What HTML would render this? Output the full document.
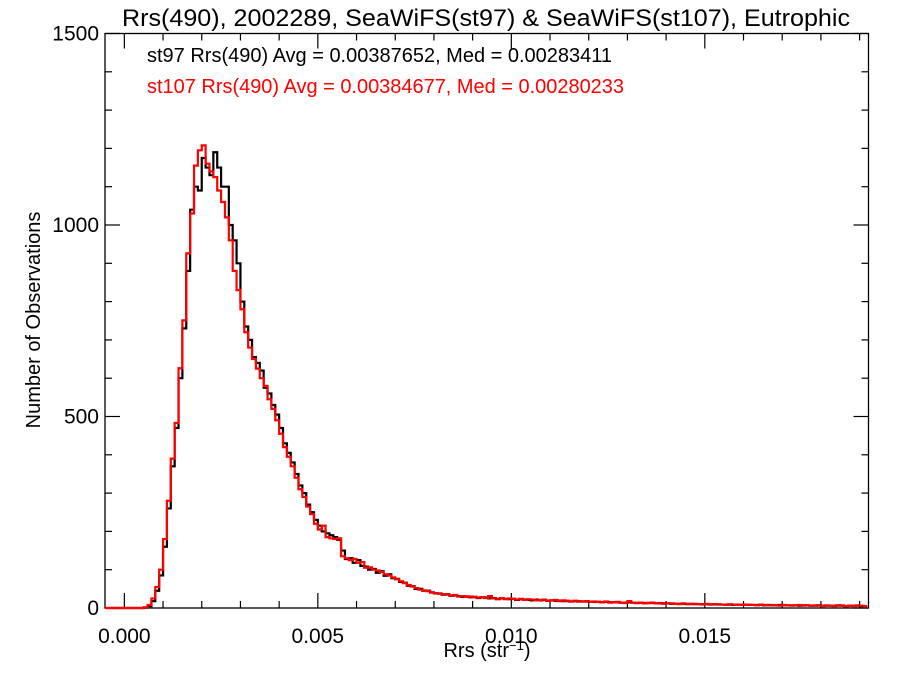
<!DOCTYPE html>
<html><head><meta charset="utf-8"><style>
body{margin:0;background:#fff}
svg{display:block;font-family:"Liberation Sans",Arial,sans-serif}
</style></head><body>
<svg id="chart" width="900" height="675" viewBox="0 0 900 675">
<rect width="900" height="675" fill="#fff"/>
<text x="486" y="26" font-size="24" text-anchor="middle" textLength="728" lengthAdjust="spacingAndGlyphs">Rrs(490), 2002289, SeaWiFS(st97) &amp; SeaWiFS(st107), Eutrophic</text>
<text x="147" y="62" font-size="20" textLength="465" lengthAdjust="spacingAndGlyphs">st97 Rrs(490) Avg = 0.00387652, Med = 0.00283411</text>
<text x="147" y="93" font-size="20" fill="#ff0000" textLength="477" lengthAdjust="spacingAndGlyphs">st107 Rrs(490) Avg = 0.00384677, Med = 0.00280233</text>
<text transform="translate(40,320) rotate(-90)" font-size="20" text-anchor="middle">Number of Observations</text>
<text x="487" y="657" font-size="20" text-anchor="middle">Rrs (str<tspan dy="-7" font-size="13">−1</tspan><tspan dy="7">)</tspan></text>
<g id="axes"></g>
<g id="series"></g>
</svg>
<script>
const binStart = 0.0;
const binWidth = 0.0001;
const st107Counts = [0,0,0,0,0,2,8,25,55,100,180,280,390,483,626,751,926,1030,1155,1195,1208,1160,1140,1125,1090,1060,1020,960,880,830,780,720,680,650,625,600,580,545,520,490,455,420,395,370,340,310,290,265,245,220,205,215,185,182,180,182,135,130,125,128,118,120,105,106,100,98,94,88,85,80,75,70,65,60,56,52,48,46,44,40,39,37,36,35,33,34,30,31,29,30,28,27,28,26,31,25,24,26,23,25,24,22,24,21,23,22,20,21,22,19,20,21,18,20,19,17,19,18,17,18,16,17,16,15,17,14,15,16,14,13,18,14,13,14,12,13,14,12,13,11,12,12,11,10,12,11,10,11,10,9,11,10,9,10,9,8,10,9,8,9,8,9,8,7,9,8,7,8,7,6,8,7,6,7,8,6,7,6,7,6,5,7,6,5,6,7,5,6,5,7,6,5];
const st97Counts = [0,0,0,0,0,1,5,18,45,85,160,260,370,470,600,730,880,1040,1100,1090,1175,1150,1130,1190,1150,1100,1100,1000,960,900,800,735,700,655,640,620,575,560,530,505,470,430,405,380,350,320,300,270,250,230,215,200,195,190,185,178,150,128,130,118,125,110,108,100,102,92,96,84,88,78,76,68,66,58,57,50,50,45,45,41,38,38,35,36,32,33,31,29,30,28,29,26,28,27,25,26,23,25,24,23,24,21,23,22,21,20,22,20,21,19,20,19,19,18,18,17,18,17,17,17,16,16,16,15,16,15,15,15,14,14,15,14,13,14,13,13,13,12,12,12,12,11,11,11,11,10,11,10,10,10,10,9,10,9,9,9,9,8,9,8,9,8,8,8,8,7,8,7,7,8,7,7,7,7,6,7,7,6,6,7,6,6,6,6,7,6,5,6,6,6,5];
const xTickLabels = ["0.000","0.005","0.010","0.015"];
const xTickValues = [0,0.005,0.010,0.015];
const yTickLabels = ["0","500","1000","1500"];
const yTickValues = [0,500,1000,1500];

const L=105,R=868.5,T=33.5,B=608;
const xMin=-0.0005,xMax=0.01923,yMin=0,yMax=1500;
const xs=v=>L+(v-xMin)/(xMax-xMin)*(R-L);
const ys=v=>B-(v-yMin)/(yMax-yMin)*(B-T);
const NS="http://www.w3.org/2000/svg";
const axes=document.getElementById('axes'), series=document.getElementById('series');
function mk(tag,attrs,parent){const e=document.createElementNS(NS,tag);for(const k in attrs)e.setAttribute(k,attrs[k]);parent.appendChild(e);return e;}

function stepPath(counts){
  let d="M"+L+","+ys(0)+" L"+xs(binStart)+","+ys(0);
  for(let i=0;i<counts.length;i++){
    const x0=xs(binStart+i*binWidth), x1=Math.min(R,xs(binStart+(i+1)*binWidth)), y=ys(counts[i]);
    d+=" L"+x0.toFixed(2)+","+y.toFixed(2)+" L"+x1.toFixed(2)+","+y.toFixed(2);
  }
  return d;
}
const p1=mk('path',{d:stepPath(st97Counts),fill:'none',stroke:'#000','stroke-width':2.2},series);


const p2=mk('path',{d:stepPath(st107Counts),fill:'none',stroke:'#ff0000','stroke-width':2.2},series);



const frame=mk('rect',{x:L,y:T,width:R-L,height:B-T,fill:'none',stroke:'#000','stroke-width':1.3},axes);



for(let k=0;k<=19;k++){
  const v=k*0.001; const x=xs(v); const major=(k%5===0); const len=major?15:7;
  mk('line',{x1:x,y1:B,x2:x,y2:B-len,stroke:'#000','stroke-width':1.2},axes);
  mk('line',{x1:x,y1:T,x2:x,y2:T+len,stroke:'#000','stroke-width':1.2},axes);
}
xTickValues.forEach((v,i)=>{
  const t=mk('text',{x:xs(v),y:643,'font-size':21,'text-anchor':'middle'},axes);
  t.textContent=xTickLabels[i];
  
  
});
for(let v=0;v<=1500;v+=100){
  const y=ys(v); const major=(v%500===0); const len=major?15:7;
  mk('line',{x1:L,y1:y,x2:L+len,y2:y,stroke:'#000','stroke-width':1.2},axes);
  mk('line',{x1:R,y1:y,x2:R-len,y2:y,stroke:'#000','stroke-width':1.2},axes);
}
yTickValues.forEach((v,i)=>{
  const t=mk('text',{x:99,y:ys(v)+7,'font-size':21,'text-anchor':'end'},axes);
  t.textContent=yTickLabels[i];
  
  
});
</script>
</body></html>
